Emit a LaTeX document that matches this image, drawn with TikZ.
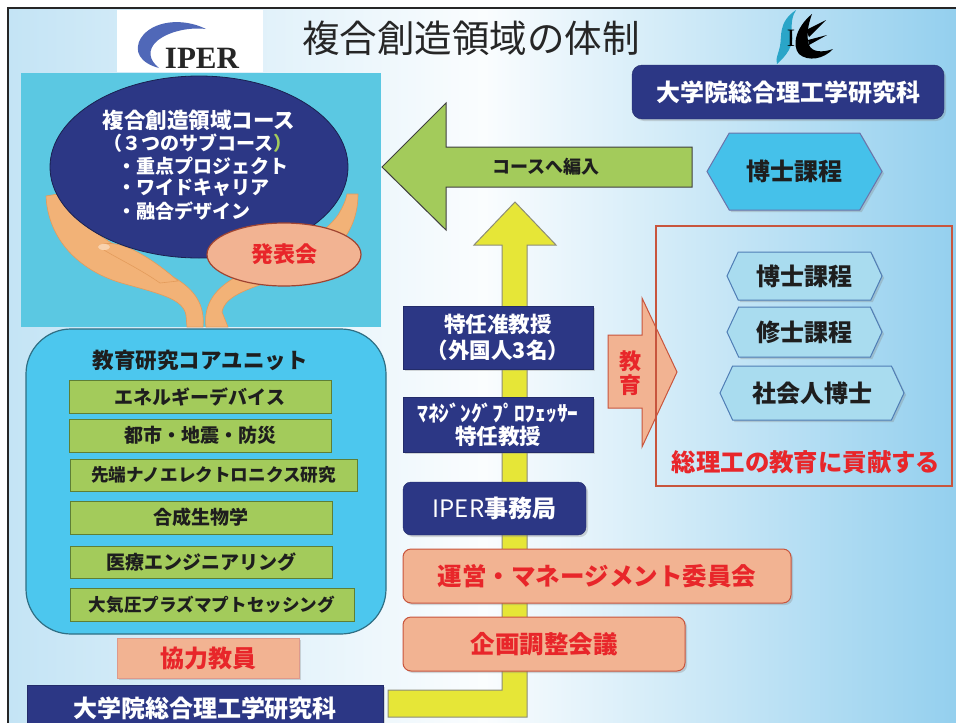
\documentclass[tikz,border=0pt]{standalone}
\usepackage{fontspec}
\newfontfamily\jp{Noto Sans CJK JP}
\newfontfamily\logoserif{Liberation Serif}
\usetikzlibrary{shapes.geometric,shapes.symbols,shadows}

\definecolor{navy}{HTML}{2C3785}
\definecolor{panelcyan}{HTML}{5BC8E2}
\definecolor{corecyan}{HTML}{4CC7EE}
\definecolor{coreedge}{HTML}{2F6F84}
\definecolor{lgreen}{HTML}{A3CB5B}
\definecolor{dgreen}{HTML}{5E7F35}
\definecolor{salmon}{HTML}{F2B392}
\definecolor{salmonedge}{HTML}{C8553D}
\definecolor{redtxt}{HTML}{E8262A}
\definecolor{yel}{HTML}{E6E637}
\definecolor{yeledge}{HTML}{8C8C78}
\definecolor{hexlight}{HTML}{A9DCEF}
\definecolor{hexedge}{HTML}{4F7DB5}
\definecolor{hexbigfill}{HTML}{45C1EA}
\definecolor{txt}{HTML}{1E1E1E}
\definecolor{bgl}{HTML}{C4E4F5}
\definecolor{bgr}{HTML}{93CFEE}
\definecolor{handc}{HTML}{F2B277}
\definecolor{handd}{HTML}{E39B5B}
\definecolor{nail}{HTML}{F8D2AE}
\definecolor{iperblue}{HTML}{5068B8}
\definecolor{sieteal}{HTML}{2AA5C8}

\tikzset{
  fs/.style={font=\jp\fontsize{#1}{\dimexpr#1pt*6/5\relax}\selectfont},
  fsb/.style={font=\jp\bfseries\fontsize{#1}{\dimexpr#1pt*6/5\relax}\selectfont},
  softshadow/.style={drop shadow={opacity=0.3,shadow xshift=2pt,shadow yshift=-2pt}},
  navybox/.style={fill=navy,draw=navy!80!black,text=white,inner sep=0pt,outer sep=0pt,softshadow},
  greenbox/.style={fill=lgreen,draw=dgreen,line width=1pt,text=txt,inner sep=0pt,outer sep=0pt},
  salmonbox/.style={fill=salmon,draw=salmonedge,line width=1pt,text=redtxt,inner sep=0pt,outer sep=0pt,rounded corners=8pt,softshadow},
  hexbig/.style={signal,signal to=west and east,signal pointer angle=120,fill=hexbigfill,draw=navy!70,line width=1pt,text=txt,inner sep=0pt,outer sep=0pt,softshadow},
  hexsmall/.style={signal,signal to=west and east,signal pointer angle=130,fill=hexlight,draw=hexedge,line width=1pt,text=txt,inner sep=0pt,outer sep=0pt,softshadow},
  hand/.style={fill=handc,draw=handd,line width=0.6pt},
}

\begin{document}
\begin{tikzpicture}[x=1pt,y=-1pt]
\useasboundingbox (0,0) rectangle (956,723);

% page background and frame
\fill[white] (0,0) rectangle (956,723);
\shade[left color=bgl,right color=bgr,middle color=white!92!bgl] (8,8) rectangle (960,727);
\draw[line width=2pt,black!85] (8,730) -- (8,8) -- (960,8);

% IPER logo
\fill[white] (117,10) rectangle (263,72);
\fill[iperblue] (206,29) .. controls (182,17) and (152,21) .. (141,38)
  .. controls (133,51) and (140,63) .. (159,68)
  .. controls (149,60) and (147,50) .. (157,41)
  .. controls (169,31) and (190,27) .. (206,29) -- cycle;
\node[font=\logoserif\bfseries\fontsize{31}{32}\selectfont,text=black!85,inner sep=0pt] (iperword) at (202,58) {IPER};

% title
\node[fs=37.5,text=black!85,inner sep=0pt] (title) at (471,38) {複合創造領域の体制};

% SIE logo
\fill[sieteal] (796,10) .. controls (778,22) and (782,36) .. (780,46)
  .. controls (779,53) and (775,58) .. (777,64)
  .. controls (786,56) and (794,46) .. (792,34)
  .. controls (791,24) and (792,16) .. (796,10) -- cycle;
\node[font=\logoserif\fontsize{25}{25}\selectfont,inner sep=0pt] (siei) at (791,38) {I};
\fill[black] (812,14) .. controls (795,28) and (792,46) .. (799,54)
  .. controls (808,62) and (824,59) .. (833,49)
  .. controls (822,53) and (812,52) .. (809,45)
  .. controls (806,36) and (808,25) .. (812,14) -- cycle;
\fill[black] (806,30) -- (826,20) -- (809,37) -- cycle;
\fill[black] (808,40) -- (827,35) -- (809,45) -- cycle;

% graduate school banner (top right)
\node[navybox,rounded corners=10pt,minimum width=312pt,minimum height=54pt,fsb=24] (gsst) at (788,92) {大学院総合理工学研究科};

% doctoral course hexagon
\node[hexbig,minimum width=175pt,minimum height=77pt,fsb=24] (phd) at (794.5,171.5) {博士課程};

% left panel with course ellipse held by hands
\fill[panelcyan] (21,73) rectangle (381,327);
\fill[hand] (46,196) .. controls (48,240) and (80,272) .. (125,284)
  .. controls (165,295) and (183,300) .. (186,315) -- (187,327) -- (203,327)
  .. controls (205,305) and (195,290) .. (175,278)
  .. controls (140,260) and (100,240) .. (75,215)
  .. controls (68,207) and (62,200) .. (58,194) -- cycle;
\fill[hand] (104,244) .. controls (122,240) and (152,258) .. (178,281) -- (160,283)
  .. controls (140,269) and (115,257) .. (104,250) -- cycle;
\fill[nail] (104,247) ellipse [x radius=6pt,y radius=3pt];
\fill[hand] (358,194) .. controls (358,235) and (330,262) .. (290,275)
  .. controls (250,288) and (225,295) .. (222,312) -- (228,327) -- (206,327)
  .. controls (203,305) and (215,287) .. (240,275)
  .. controls (280,258) and (320,240) .. (338,215)
  .. controls (343,207) and (346,200) .. (347,194) -- cycle;

\node[ellipse,fill=navy,draw=navy!60!black,line width=0.8pt,minimum width=298pt,minimum height=182pt,inner sep=0pt] (course) at (199,167) {};
\node[fsb=21.5,text=white,inner sep=0pt] (coursetitle) at (199,120) {複合創造領域コース};
\node[fsb=19,text=white,inner sep=0pt] (subcourses) at (198,143) {（３つのサブコース{\color{lgreen}）}};
\node[fsb=19,text=white,inner sep=0pt,anchor=west] (sub1) at (117,166) {・重点プロジェクト};
\node[fsb=19,text=white,inner sep=0pt,anchor=west] (sub2) at (117,188) {・ワイドキャリア};
\node[fsb=19,text=white,inner sep=0pt,anchor=west] (sub3) at (117,211) {・融合デザイン};

\node[ellipse,fill=salmon,draw=salmonedge!80!black,line width=1.2pt,minimum width=154pt,minimum height=63pt,inner sep=0pt,fsb=22,text=redtxt] (presentation) at (284,254.5) {発表会};

% enrolment arrow
\fill[lgreen,draw=black!75,line width=1pt] (382,167) -- (446,103) -- (446,147) -- (692,147) -- (692,187) -- (446,187) -- (446,230) -- cycle;
\node[fsb=18,text=txt,inner sep=0pt] (enroll) at (546,167) {コースへ編入};

% yellow support arrow
\fill[yel,draw=yeledge,line width=1pt] (515,202) -- (556,245) -- (527,245) -- (527,717) -- (388,717) -- (388,690) -- (502,690) -- (502,245) -- (474,245) -- cycle;

% central column
\node[navybox,minimum width=190pt,minimum height=63pt,fsb=21.5,align=center] (assoc) at (498,337.5) {特任准教授\\（外国人3名）};
\node[navybox,minimum width=190pt,minimum height=55pt,fsb=21.5,align=center] (mgmtprof) at (498,424.5) {ﾏﾈｼﾞﾝｸﾞﾌﾟﾛﾌｪｯｻｰ\\[-3pt]特任教授};
\node[navybox,rounded corners=8pt,minimum width=183pt,minimum height=53pt,fs=24] (office) at (494.5,508.5) {IPER{\bfseries 事務局}};
\node[salmonbox,minimum width=388pt,minimum height=54pt,fsb=24.5] (committee) at (597,576) {運営・マネージメント委員会};
\node[salmonbox,minimum width=282pt,minimum height=54pt,fsb=24.5] (planning) at (544,644) {企画調整会議};

% education arrow and contribution box
\fill[salmon,draw=salmonedge,line width=1pt] (608,335) -- (642,335) -- (642,298) -- (677,372) -- (642,447) -- (642,408) -- (608,408) -- cycle;
\node[fsb=22,text=redtxt,inner sep=0pt,align=center] (edu) at (630,373) {教\\[-2pt]育};
\draw[salmonedge,line width=1.5pt] (656,226) rectangle (952,486);
\node[hexsmall,minimum width=155pt,minimum height=48pt,fsb=24] (phd2) at (804.5,276) {博士課程};
\node[hexsmall,minimum width=155pt,minimum height=50pt,fsb=24] (master) at (804.5,332) {修士課程};
\node[hexsmall,minimum width=184pt,minimum height=54pt,fsb=24] (working) at (812,393) {社会人博士};
\node[fsb=24.4,text=redtxt,inner sep=0pt] (contrib) at (806,462) {総理工の教育に貢献する};

% core research units
\draw[fill=corecyan,draw=coreedge,line width=1.2pt,rounded corners=45pt] (26,329) rectangle (386,634);
\node[fsb=21.5,text=txt,inner sep=0pt] (core) at (200,360) {教育研究コアユニット};
\node[greenbox,minimum width=262pt,minimum height=33pt,fsb=19] (u1) at (200,396.5) {エネルギーデバイス};
\node[greenbox,minimum width=262pt,minimum height=33pt,fsb=19] (u2) at (200,435.5) {都市・地震・防災};
\node[greenbox,minimum width=287pt,minimum height=32pt,fsb=17.6] (u3) at (213.5,475) {先端ナノエレクトロニクス研究};
\node[greenbox,minimum width=262pt,minimum height=33pt,fsb=19] (u4) at (201,517.5) {合成生物学};
\node[greenbox,minimum width=262pt,minimum height=32pt,fsb=19] (u5) at (201,562) {医療エンジニアリング};
\node[greenbox,minimum width=284pt,minimum height=33pt,fsb=17.6] (u6) at (212,605) {大気圧プラズマプトセッシング};

\node[fill=salmon,draw=salmonedge!60,line width=1pt,minimum width=182pt,minimum height=40pt,inner sep=0pt,fsb=24,text=redtxt,softshadow] (coop) at (208,658) {協力教員};
\node[navybox,minimum width=356pt,minimum height=46pt,fsb=24] (gsstbottom) at (205,708) {大学院総合理工学研究科};
\end{tikzpicture}
\end{document}
